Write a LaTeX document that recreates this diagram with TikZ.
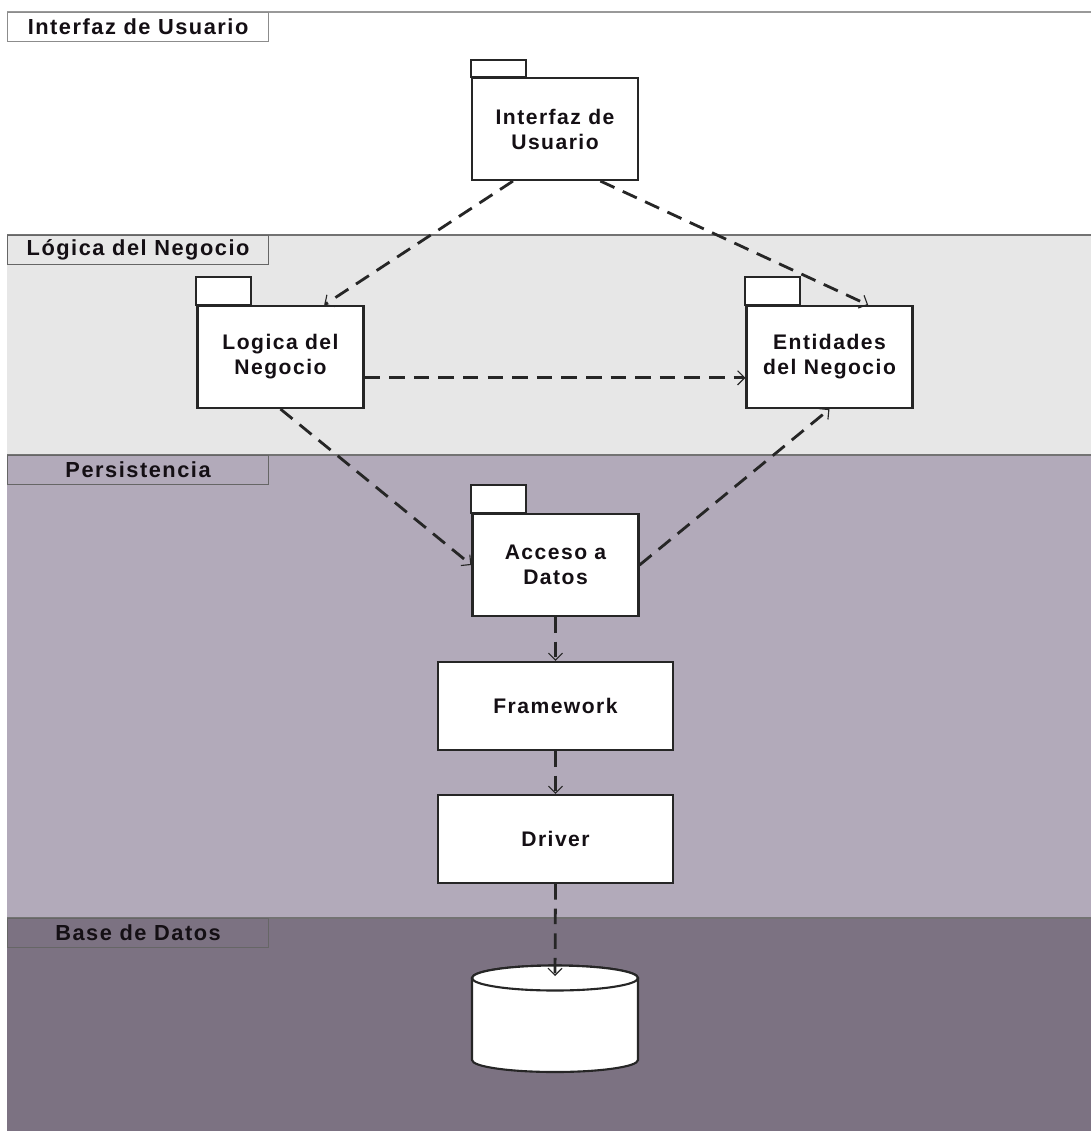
\documentclass[tikz,border=0pt]{standalone}
\usepackage{fontspec}
\newfontfamily\diafont{Liberation Sans}[LetterSpace=7]
\usetikzlibrary{calc,arrows.meta}
\definecolor{bandlog}{RGB}{231,231,231}
\definecolor{bandper}{RGB}{178,170,186}
\definecolor{bandbd}{RGB}{124,114,130}
\definecolor{txt}{RGB}{20,15,20}

\begin{document}
\begin{tikzpicture}[x=0.025cm,y=0.025cm,
    band/.style={draw=black!55,line width=0.8pt},
    tag/.style={draw=black!60,line width=0.8pt,anchor=north west,minimum width=6.525cm,minimum height=0.725cm,
      inner sep=0pt,font=\diafont\bfseries\fontsize{15.5}{17}\selectfont,text=txt},
    pkg/.style={draw=black!85,line width=1.5pt,fill=white,minimum width=4.15cm,minimum height=2.55cm,
      align=center,font=\diafont\bfseries\fontsize{15}{17.8}\selectfont,text=txt},
    tabbox/.style={draw=black!85,line width=1.5pt,fill=white},
    box/.style={pkg,minimum width=5.875cm,minimum height=2.2cm},
    dep/.style={-{Straight Barb[length=5pt,width=10pt,line width=0.8pt]},line width=2pt,
      dash pattern=on 11pt off 6.5pt,draw=black!85}]
      \useasboundingbox (0,0) rectangle (1091,-1131);

      \fill[white] (0,0) rectangle (1091,-1131);
      \fill[bandlog] (7,-235) rectangle (1091,-455);
      \fill[bandper] (7,-455) rectangle (1091,-918);
      \fill[bandbd] (7,-918) rectangle (1091,-1131);
      \draw[band,draw=black!40] (7,-12)--(1091,-12);
      \draw[band] (7,-235)--(1091,-235);
      \draw[band] (7,-455)--(1091,-455);
      \draw[band] (7,-918)--(1091,-918);

      \node[tag,fill=white,draw=black!45] (tagUI) at (7,-12) {Interfaz de Usuario};
      \node[tag,fill=bandlog] (tagLog) at (7,-235) {Lógica del Negocio};
      \node[tag,fill=bandper] (tagPer) at (7,-455) {Persistencia};
      \node[tag,fill=bandbd] (tagBD) at (7,-918) {Base de Datos};

      \node[pkg] (ui) at (555,-129) {Interfaz de\\Usuario};
      \node[pkg] (log) at (280.5,-357) {Logica del\\Negocio};
      \node[pkg] (ent) at (829.5,-357) {Entidades\\del Negocio};
      \node[pkg] (acc) at (555.5,-565) {Acceso a\\Datos};
      \draw[tabbox] (ui.north west) rectangle ++(55,17);
      \draw[tabbox] (log.north west) rectangle ++(55,28);
      \draw[tabbox] (ent.north west) rectangle ++(55,28);
      \draw[tabbox] (acc.north west) rectangle ++(55,28);

      \node[box] (fw) at (555.5,-706) {Framework};
      \node[box] (drv) at (555.5,-839) {Driver};

      \filldraw[tabbox] (472,-978)--(472,-1060) arc[start angle=180,end angle=360,x radius=83,y radius=12]
        --(638,-978) arc[start angle=0,end angle=180,x radius=83,y radius=12.5]--cycle;
      \draw[tabbox] (555,-978) ellipse[x radius=83,y radius=12.5];
      \coordinate (dbtop) at (555,-976);

      \draw[dep] ($(ui.south west)!0.25!(ui.south east)$)--($(log.north west)!0.76!(log.north east)$);
      \draw[dep] ($(ui.south west)!0.77!(ui.south east)$)--($(ent.north west)!0.73!(ent.north east)$);
      \draw[dep] ($(log.north east)!0.7!(log.south east)$)--($(ent.north west)!0.7!(ent.south west)$);
      \draw[dep] (log.south)--(acc.west);
      \draw[dep] (acc.east)--(ent.south);
      \draw[dep] (acc.south)--(fw.north);
      \draw[dep] (fw.south)--(drv.north);
      \draw[dep] (drv.south)--(dbtop);
    \end{tikzpicture}
\end{document}
